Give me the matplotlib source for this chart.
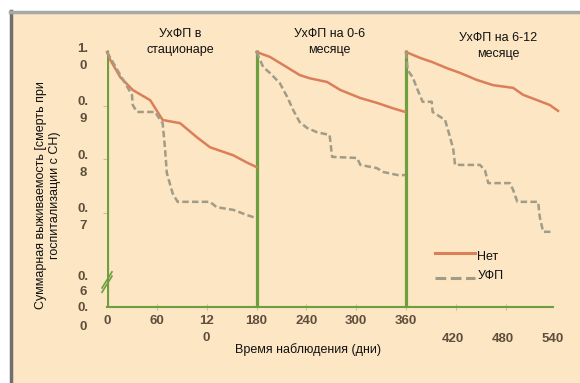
import matplotlib.pyplot as plt
from matplotlib.patches import Rectangle
from matplotlib.lines import Line2D

plt.rcParams['font.family'] = ['Liberation Sans', 'DejaVu Sans']

# УхФП в стационаре (0-180 дней)
days_net_1 = [0, 4, 16, 31, 52, 67, 88, 108, 124, 152, 169, 180]
surv_net_1 = [1.0, 0.985, 0.953, 0.929, 0.910, 0.873, 0.867, 0.841, 0.822, 0.807, 0.793, 0.785]
days_ufp_1 = [0, 16, 30, 31, 36, 58, 64, 67, 70, 72, 79, 85, 124, 132, 152, 169, 179]
surv_ufp_1 = [1.0, 0.957, 0.920, 0.901, 0.888, 0.888, 0.873, 0.867, 0.817, 0.774, 0.736,
              0.720, 0.720, 0.710, 0.705, 0.695, 0.690]

# УхФП на 0-6 месяце (180-360 дней)
days_net_2 = [180, 196, 212, 232, 244, 265, 281, 305, 325, 344, 359]
surv_net_2 = [1.0, 0.991, 0.976, 0.957, 0.951, 0.944, 0.929, 0.914, 0.905, 0.895, 0.888]
days_ufp_2 = [180, 188, 196, 208, 217, 224, 232, 241, 253, 268, 271, 301, 305, 325, 332, 350, 359]
surv_ufp_2 = [1.0, 0.972, 0.961, 0.942, 0.916, 0.892, 0.869, 0.858, 0.850, 0.845, 0.804,
              0.802, 0.789, 0.783, 0.776, 0.770, 0.770]

# УхФП на 6-12 месяце (360-540 дней)
days_net_3 = [360, 377, 392, 409, 425, 445, 465, 489, 501, 518, 533, 543]
surv_net_3 = [1.0, 0.989, 0.981, 0.970, 0.961, 0.948, 0.938, 0.933, 0.920, 0.910, 0.901, 0.890]
days_ufp_3 = [360, 362, 368, 374, 380, 391, 392, 401, 407, 413, 417, 419, 449, 455, 459,
              485, 489, 494, 519, 521, 525, 536]
surv_ufp_3 = [1.0, 0.966, 0.953, 0.929, 0.907, 0.907, 0.888, 0.879, 0.873, 0.841, 0.817,
              0.789, 0.789, 0.779, 0.755, 0.755, 0.742, 0.720, 0.720, 0.692, 0.664, 0.664]

segment_titles = ['УхФП в\nстационаре', 'УхФП на 0-6\nмесяце', 'УхФП на 6-12\nмесяце']
x_ticks = [0, 60, 120, 180, 240, 300, 360, 420, 480, 540]
x_tick_labels = ['0', '60', '12\n0', '180', '240', '300', '360', '420', '480', '540']
y_ticks = [1.0, 0.9, 0.8, 0.7]
y_tick_labels = ['1.\n0', '0.\n9', '0.\n8', '0.\n7']

bg = '#fce6c3'
green = '#6e9f3e'
red = '#da7f5a'
gray = '#a09c88'
tick_col = '#5e4e3c'

fig = plt.figure(figsize=(5.8, 3.83), dpi=100, facecolor='white')
fig.add_artist(Rectangle((10 / 580, 0), 1, (383 - 12) / 383, transform=fig.transFigure,
                         facecolor=bg, edgecolor='none', zorder=0))
fig.add_artist(Line2D([11 / 580, 11 / 580], [0, (383 - 11) / 383], transform=fig.transFigure,
                      color='#6f6f6f', lw=2.5))
fig.add_artist(Line2D([10 / 580, 1], [(383 - 12) / 383] * 2, transform=fig.transFigure,
                      color='#a8a8a8', lw=2.5))

ax = fig.add_axes([107 / 580, 76 / 383, 452.7 / 580, 257.1 / 383])
ax.set_facecolor('none')
ax.set_xlim(0, 545)
ax.set_ylim(0.5234, 1.004)
for s in ['left', 'right', 'top']:
    ax.spines[s].set_visible(False)
ax.spines['bottom'].set_color(green)
ax.spines['bottom'].set_linewidth(1.5)
ax.spines['bottom'].set_bounds(0, 537)
ax.set_xticks(x_ticks[1:-1])
ax.set_yticks(y_ticks[1:])
ax.tick_params(axis='x', direction='inout', length=4, color='#b9c98f', labelbottom=False)
ax.tick_params(axis='y', direction='out', length=3, color='#b9c98f', labelleft=False)

# вертикальные границы периодов
ax.vlines([0, 180, 360], 0.5234, 1.004, color=green, lw=2.3, zorder=2)

# разрыв оси Y
for dy in (0.0, -0.008):
    ax.add_line(Line2D([-6, 6], [0.559 + dy, 0.589 + dy], color=green, lw=1.2, clip_on=False))

# кривые выживаемости
for d, s in [(days_net_1, surv_net_1), (days_net_2, surv_net_2), (days_net_3, surv_net_3)]:
    ax.plot(d, s, color=red, lw=1.8, clip_on=False, zorder=3)
for d, s in [(days_ufp_1, surv_ufp_1), (days_ufp_2, surv_ufp_2), (days_ufp_3, surv_ufp_3)]:
    ax.plot(d, s, color=gray, lw=1.8, ls=(0, (2.6, 1.3)), clip_on=False, zorder=4)

# подписи делений
tick_font = dict(fontsize=9.5, fontweight='bold', color=tick_col, ha='center')
for v, lab in zip(y_ticks, y_tick_labels):
    ax.text(-29, v + 0.017, lab, va='top', linespacing=1.55, **tick_font)
ax.text(-29, 0.579, '0.', va='center', **tick_font)
ax.text(-29, 0.551, '6', va='center', **tick_font)
ax.text(-29, 0.521, '0.', va='center', **tick_font)
ax.text(-29, 0.486, '0', va='center', **tick_font)

for x, lab in zip(x_ticks, x_tick_labels):
    if x <= 360:
        ax.text(x, 0.508, lab, va='top', linespacing=1.55, **tick_font)
    else:
        ax.text(x - 4, 0.474, lab, va='top', **tick_font)

# заголовки периодов
for x, y, t in zip([88, 268, 471], [1.018, 1.018, 1.011], segment_titles):
    ax.text(x, y, t, ha='center', va='center', fontsize=9, linespacing=1.45, color='#111111')

# легенда
ax.add_line(Line2D([395, 443], [0.6243, 0.6243], color=red, lw=2.2))
ax.add_line(Line2D([395, 443], [0.5776, 0.5776], color=gray, lw=2.2, ls=(0, (3.5, 1.5))))
ax.text(446, 0.617, 'Нет', va='center', fontsize=9, color='#111111')
ax.text(446, 0.581, 'УФП', va='center', fontsize=9, color='#111111')

fig.text(48 / 580, 0.491, 'Суммарная выживаемость [смерть при\nгоспитализации с СН)',
         rotation=90, ha='center', va='center', multialignment='center',
         fontsize=9, linespacing=1.3, color='#111111')
fig.text(308 / 580, 0.0862, 'Время наблюдения (дни)', ha='center', va='center',
         fontsize=9, color='#111111')

fig.savefig('out.png', dpi=100, facecolor='white')
